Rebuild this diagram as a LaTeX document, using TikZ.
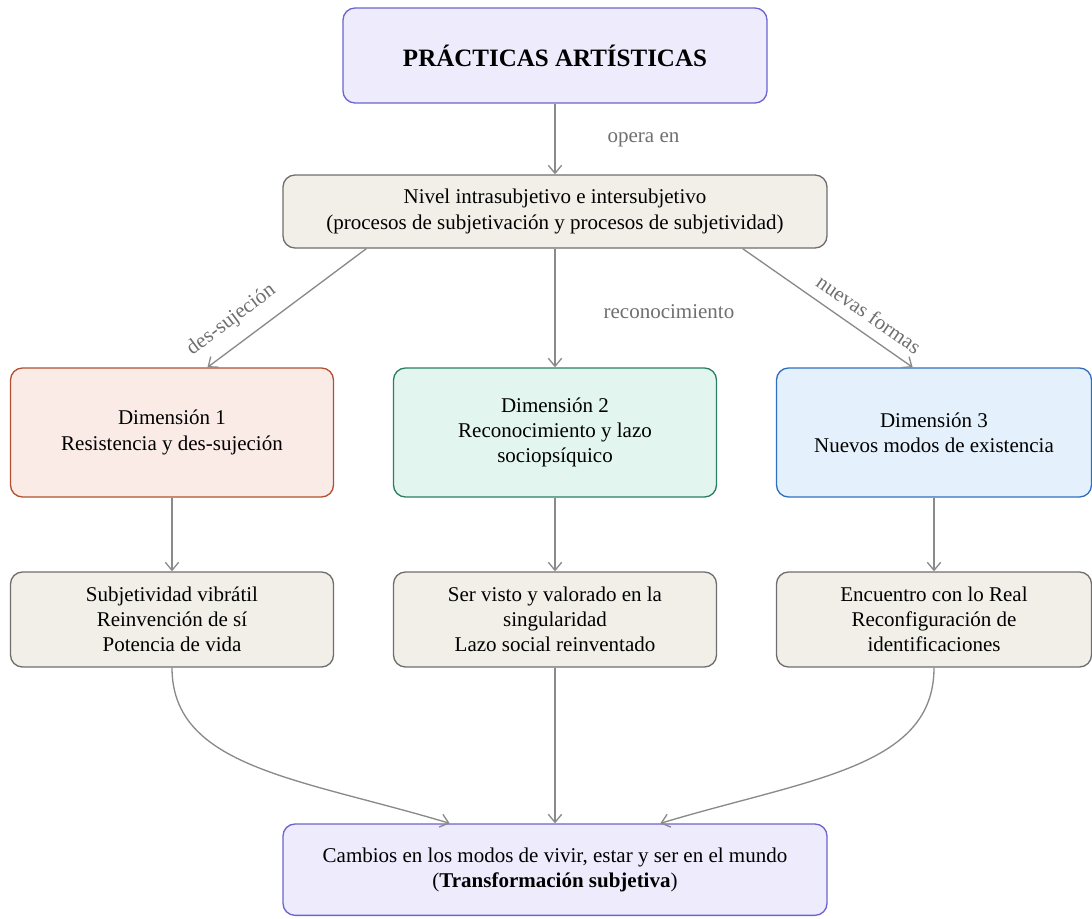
\documentclass[tikz,border=0pt]{standalone}
\usepackage{fontspec}
\setmainfont{Liberation Serif}
\usepackage{tikz}
\usetikzlibrary{arrows.meta, positioning, calc}
\usepackage{xcolor}

\definecolor{lavfill}{HTML}{EEEBFC}
\definecolor{lavline}{HTML}{6B63D0}
\definecolor{boxfill}{HTML}{F2EFE9}
\definecolor{boxline}{HTML}{6E6E6E}
\definecolor{redfill}{HTML}{FAEBE6}
\definecolor{redline}{HTML}{B2502F}
\definecolor{greenfill}{HTML}{E2F5EF}
\definecolor{greenline}{HTML}{2A7F62}
\definecolor{bluefill}{HTML}{E4F0FB}
\definecolor{blueline}{HTML}{2F6FC0}
\definecolor{arrowgray}{HTML}{8A8A8A}
\definecolor{lblgray}{HTML}{6F6F6F}

\begin{document}
\begin{tikzpicture}[
  x=0.75pt, y=0.75pt,
  node distance=53pt and 44pt,
  >={Straight Barb[length=6pt, width=10pt]},
  font=\fontsize{15.75pt}{18.9pt}\selectfont,
  box/.style={draw=boxline, rounded corners=9pt, line width=1pt, fill=boxfill, align=center, inner sep=4pt, minimum width=242.25pt, minimum height=71.25pt},
  dimbox/.style={box, minimum height=96.75pt},
  mainbox/.style={box, draw=lavline, fill=lavfill},
  conn/.style={->, draw=arrowgray, line width=1pt},
  lbl/.style={text=lblgray, inner sep=2pt}
]
\useasboundingbox (0,0) rectangle (1092,-918);

% TOP
\node[mainbox, minimum width=318pt, font=\fontsize{18.75pt}{22pt}\selectfont\bfseries] (practicas) at (555,-55.5) {PRÁCTICAS ARTÍSTICAS};
\node[box, below=53pt of practicas, minimum width=408pt, minimum height=54.75pt] (nivel) {Nivel intrasubjetivo e intersubjetivo\\(procesos de subjetivación y procesos de subjetividad)};
\draw[conn] (practicas) -- (nivel) node[lbl, pos=0.51, anchor=west, xshift=37pt] (operaen) {opera en};

% DIMENSIONES
\node[dimbox, below=89pt of nivel, draw=greenline, fill=greenfill] (dim2) {Dimensión 2\\Reconocimiento y lazo\\sociopsíquico};
\node[dimbox, left=44pt of dim2, draw=redline, fill=redfill] (dim1) {Dimensión 1\\Resistencia y des-sujeción};
\node[dimbox, right=44pt of dim2, draw=blueline, fill=bluefill, minimum width=236.25pt] (dim3) {Dimensión 3\\Nuevos modos de existencia};

\draw[conn] ([xshift=63pt]nivel.south west) -- ([xshift=26.6pt]dim1.north)
  node[lbl, pos=0.76, above=8pt, sloped] (lbldes) {des-sujeción};
\draw[conn] (nivel) -- (dim2)
  node[lbl, pos=0.53, anchor=west, xshift=34pt] (lblrec) {reconocimiento};
\draw[conn] ([xshift=-63.75pt]nivel.south east) -- ([xshift=-16pt]dim3.north)
  node[lbl, pos=0.68, above=6pt, sloped] (lblnue) {nuevas formas};

% EFECTOS
\node[box, below=55.25pt of dim1] (efecto1) {Subjetividad vibrátil\\Reinvención de sí\\Potencia de vida};
\node[box, below=55.25pt of dim2] (efecto2) {Ser visto y valorado en la\\singularidad\\Lazo social reinventado};
\node[box, below=55.25pt of dim3, minimum width=236.25pt] (efecto3) {Encuentro con lo Real\\Reconfiguración de\\identificaciones};
\draw[conn] (dim1) -- (efecto1);
\draw[conn] (dim2) -- (efecto2);
\draw[conn] (dim3) -- (efecto3);

% TRANSFORMACION
\node[mainbox, below=116.75pt of efecto2, minimum width=408pt, minimum height=68.5pt] (cambios) {Cambios en los modos de vivir, estar y ser en el mundo\\(\textbf{Transformación subjetiva})};
\draw[conn] (efecto1.south) .. controls +(0,-100) and +(-150,45) .. ([xshift=-79pt]cambios.north);
\draw[conn] (efecto2) -- (cambios);
\draw[conn] (efecto3.south) .. controls +(0,-100) and +(150,45) .. ([xshift=79pt]cambios.north);

\end{tikzpicture}
\end{document}
